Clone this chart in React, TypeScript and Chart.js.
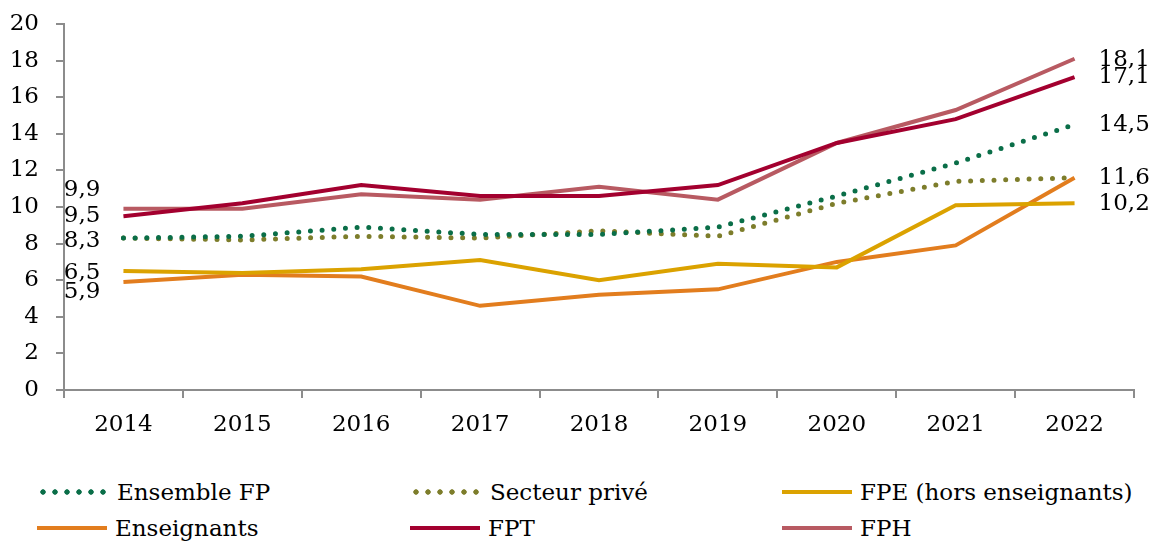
import React, { useEffect, useLayoutEffect, useRef } from "react";
import { Chart, registerables } from "chart.js";

Chart.register(...registerables);

// ---- data ----
const years = ["2014", "2015", "2016", "2017", "2018", "2019", "2020", "2021", "2022"];
const seriesNames = ["Ensemble FP", "Secteur privé", "FPE (hors enseignants)", "Enseignants", "FPT", "FPH"];
const ensembleFP = [8.3, 8.4, 8.9, 8.5, 8.5, 8.9, 10.6, 12.4, 14.5];
const secteurPrive = [8.3, 8.2, 8.4, 8.3, 8.7, 8.4, 10.2, 11.4, 11.6];
const fpeHorsEnseignants = [6.5, 6.4, 6.6, 7.1, 6.0, 6.9, 6.7, 10.1, 10.2];
const enseignants = [5.9, 6.3, 6.2, 4.6, 5.2, 5.5, 7.0, 7.9, 11.6];
const fpt = [9.5, 10.2, 11.2, 10.6, 10.6, 11.2, 13.5, 14.8, 17.1];
const fph = [9.9, 9.9, 10.7, 10.4, 11.1, 10.4, 13.5, 15.3, 18.1];
const yTickValues = [0, 2, 4, 6, 8, 10, 12, 14, 16, 18, 20];

// ---- styles ----
const colors = ["#0A6E48", "#7D7D2B", "#DBA200", "#E27D1E", "#A3002F", "#B85A62"];
const dotted = [true, true, false, false, false, false];
const FONT = "'DejaVu Serif', serif";
const AXIS = "#8C8C8C";

// which datasets get a value label at the first / last point, with vertical nudge
const startLabels = [
  { ds: 5, dy: -19 },
  { ds: 4, dy: 0 },
  { ds: 0, dy: 3 },
  { ds: 2, dy: 2 },
  { ds: 3, dy: 10 },
];
const endLabels = [
  { ds: 5, dy: 1 },
  { ds: 4, dy: 0 },
  { ds: 0, dy: 0 },
  { ds: 1, dy: 0 },
  { ds: 2, dy: 1 },
];

const fmt = (v: number) => v.toFixed(1).replace(".", ",");

const valueLabelPlugin = {
  id: "valueLabels",
  afterDatasetsDraw(chart: any) {
    const ctx = chart.ctx;
    ctx.save();
    ctx.font = `23px ${FONT}`;
    ctx.fillStyle = "#000";
    ctx.textBaseline = "middle";
    ctx.textAlign = "right";
    startLabels.forEach(({ ds, dy }) => {
      const pt = chart.getDatasetMeta(ds).data[0];
      ctx.fillText(fmt(chart.data.datasets[ds].data[0]), pt.x - 23, pt.y + dy);
    });
    ctx.textAlign = "left";
    endLabels.forEach(({ ds, dy }) => {
      const d = chart.data.datasets[ds].data;
      const pts = chart.getDatasetMeta(ds).data;
      const pt = pts[pts.length - 1];
      ctx.fillText(fmt(d[d.length - 1]), pt.x + 24, pt.y + dy);
    });
    ctx.restore();
  },
};

const legendPos = [
  { left: 37, top: 477 },
  { left: 410, top: 477 },
  { left: 782, top: 477 },
  { left: 37, top: 513 },
  { left: 410, top: 513 },
  { left: 782, top: 513 },
];

export default function App() {
  const ref = useRef<HTMLCanvasElement | null>(null);

  useLayoutEffect(() => {
    document.body.style.margin = "0";
  }, []);

  useEffect(() => {
    if (!ref.current) return;
    const allData = [ensembleFP, secteurPrive, fpeHorsEnseignants, enseignants, fpt, fph];
    const chart = new Chart(ref.current, {
      type: "line",
      data: {
        labels: years,
        datasets: allData.map((d, i) => ({
          label: seriesNames[i],
          data: d,
          borderColor: colors[i],
          backgroundColor: colors[i],
          borderWidth: dotted[i] ? 5 : 4,
          borderDash: dotted[i] ? [0, 11.7] : [],
          borderCapStyle: dotted[i] ? "round" : "butt",
          pointRadius: 0,
          tension: 0,
          fill: false,
        })),
      },
      options: {
        responsive: false,
        animation: false,
        layout: { padding: { top: 24, right: 17, left: 0, bottom: 0 } },
        plugins: { legend: { display: false }, tooltip: { enabled: false } },
        scales: {
          x: {
            type: "category",
            offset: true,
            grid: {
              offset: true,
              drawOnChartArea: false,
              drawTicks: true,
              tickLength: 8,
              color: AXIS,
              lineWidth: 2,
            },
            border: { color: AXIS, width: 2 },
            ticks: { color: "#000", font: { family: FONT, size: 23 }, padding: 13, maxRotation: 0 },
            afterFit: (s: any) => {
              s.height = 58;
              s.paddingLeft = 0;
              s.paddingRight = 0;
            },
          },
          y: {
            min: 0,
            max: 20,
            afterBuildTicks: (s: any) => {
              s.ticks = yTickValues.map((v) => ({ value: v }));
            },
            grid: {
              drawOnChartArea: false,
              drawTicks: true,
              tickLength: 8,
              color: AXIS,
              lineWidth: 2,
            },
            border: { color: AXIS, width: 2 },
            ticks: { color: "#000", font: { family: FONT, size: 23 }, padding: 17 },
            afterFit: (s: any) => {
              s.width = 64;
              s.paddingTop = 0;
              s.paddingBottom = 0;
            },
          },
        },
      },
      plugins: [valueLabelPlugin],
    } as any);
    return () => chart.destroy();
  }, []);

  return (
    <div style={{ position: "relative", width: 1151, height: 541, overflow: "hidden" }}>
      <canvas ref={ref} width={1151} height={448} style={{ display: "block" }} />
      {seriesNames.map((name, i) => (
        <div
          key={name}
          style={{
            position: "absolute",
            left: legendPos[i].left,
            top: legendPos[i].top,
            height: 30,
            display: "flex",
            alignItems: "center",
            fontFamily: FONT,
            fontSize: 23,
            color: "#000",
            whiteSpace: "nowrap",
          }}
        >
          <div
            style={
              dotted[i]
                ? {
                    width: 72,
                    height: 6,
                    backgroundImage: `radial-gradient(circle at center, ${colors[i]} 2.4px, transparent 3px)`,
                    backgroundSize: "12px 6px",
                    backgroundRepeat: "repeat-x",
                  }
                : { width: 70, height: 4, background: colors[i] }
            }
          />
          <span style={{ marginLeft: 8 }}>{name}</span>
        </div>
      ))}
    </div>
  );
}
